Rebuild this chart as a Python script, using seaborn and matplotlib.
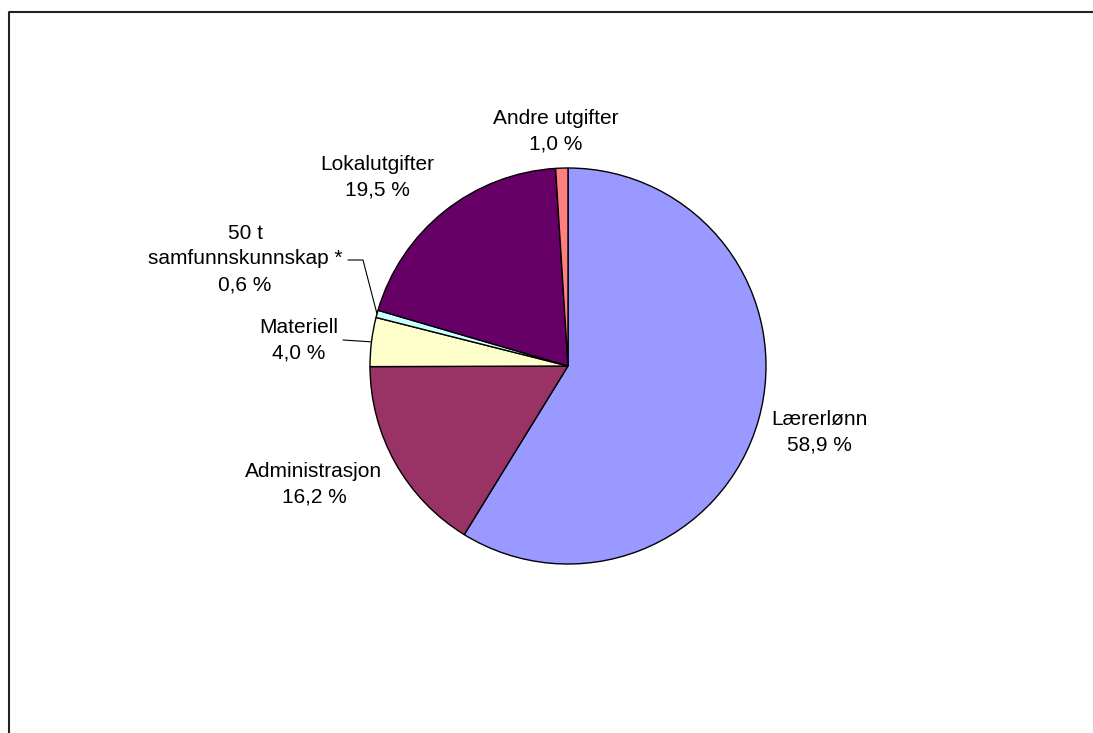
import numpy as np
import matplotlib
matplotlib.use("Agg")
import matplotlib.pyplot as plt
import seaborn as sns
from matplotlib.lines import Line2D

# Data
kategorier = ["Lærerlønn", "Administrasjon", "Materiell",
              "50 t\nsamfunnskunnskap *", "Lokalutgifter", "Andre utgifter"]
andeler = [58.9, 16.2, 4.0, 0.6, 19.5, 1.0]
farger = ["#9999FF", "#993366", "#FFFFCC", "#CCFFFF", "#660066", "#FF8080"]
etiketter = ["58,9 %", "16,2 %", "4,0 %", "0,6 %", "19,5 %", "1,0 %"]

# label centres in pixel units (x, y from top)
etikett_pos = [(819, 432), (314, 484), (299, 340), (245, 259), (377, 177), (556, 131)]

sns.set_style("white")
plt.rcParams["font.family"] = ["Liberation Sans", "DejaVu Sans"]

fig = plt.figure(figsize=(10.93, 7.33), dpi=100)
ax = fig.add_axes([0, 0, 1, 1])
ax.set_xlim(0, 1093)
ax.set_ylim(-733, 0)
ax.set_aspect("equal")
ax.axis("off")

senter = (568, -366)
radius = 198
wedges, _ = ax.pie(andeler, colors=farger, startangle=90, counterclock=False,
                   radius=radius, center=senter,
                   wedgeprops=dict(edgecolor="black", linewidth=1.0))
ax.set_xlim(0, 1093)
ax.set_ylim(-733, 0)

for i, (navn, verdi) in enumerate(zip(kategorier, etiketter)):
    x, y = etikett_pos[i]
    ax.text(x, -y, f"{navn}\n{verdi}", ha="center", va="center",
            fontsize=15, linespacing=1.45, color="black")


def kantpunkt(w):
    mid = np.deg2rad((w.theta1 + w.theta2) / 2)
    return w.center[0] + w.r * np.cos(mid), w.center[1] + w.r * np.sin(mid)


# leader lines
ex, ey = kantpunkt(wedges[2])
ax.plot([343, ex], [-340, ey], color="black", lw=0.8)
ex, ey = kantpunkt(wedges[3])
ax.plot([348, 363, ex], [-260, -260, ey], color="black", lw=0.8)

# frame (only top and left visible)
fig.add_artist(Line2D([9 / 1093, 9 / 1093, 1], [0, 1 - 12 / 733, 1 - 12 / 733],
                      transform=fig.transFigure, color="#222222", lw=1.5))

fig.savefig("out.png", dpi=100)
